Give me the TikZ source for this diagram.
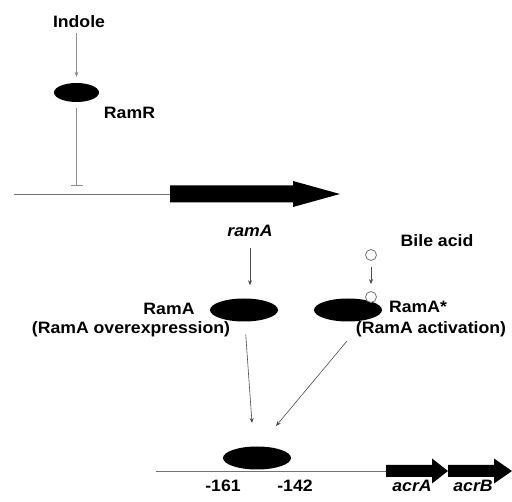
\documentclass[tikz,border=0pt]{standalone}
\usepackage{fontspec}
\setmainfont{Liberation Sans}[FakeStretch=1.07]
\usetikzlibrary{arrows.meta,shapes.geometric}
\tikzset{protein/.style = {ellipse, fill=black, minimum width = 68pt, minimum height = 23pt, inner sep = 0pt},
	lbl/.style = {font=\fontsize{16.5}{19}\selectfont\bfseries, inner sep = 1pt},
	genelbl/.style = {font=\fontsize{16.5}{19}\selectfont\bfseries\itshape, inner sep = 1pt},
	act/.style={-{Stealth[length=5pt, width=4pt]}, draw=black!70, line width=0.6pt},
	inhib/.style={-{Bar[width=12pt]}, draw=black!45, line width=0.7pt},
	dna/.style={draw=black!55, line width=0.8pt},
	ligand/.style={circle, draw=black!55, fill=white, minimum size = 11pt, inner sep = 0pt, line width=0.8pt}}

\begin{document}
\begin{tikzpicture}[x=1pt, y=-1pt]
 \useasboundingbox (0,0) rectangle (512,502);

 % RamR and the ramA gene
 \node (indole) at (79,21.5) [lbl] {Indole};
 \node (ramr) at (76.5,92.5) [protein, minimum width = 45pt, minimum height = 19pt] {};
 \node (ramrlabel) at (129.5,112.5) [lbl] {RamR};
 \draw [act, draw=black!45, shorten <=4pt, shorten >=6pt] (indole.south -| ramr.north) -- (ramr.north);

 \coordinate (ramrsite) at (76.5,185.5);
 \draw [inhib, shorten <=6pt] (ramr) -- (ramrsite);

 \draw [dna] (14,194) -- (170,194);
 \fill (170,185.5) -- (293,185.5) -- (293,181) -- (340,194) -- (293,207) -- (293,202.5) -- (170,202.5) -- cycle;

 \node (ramalabel) at (250,231) [genelbl] {ramA};
 \node (bile) at (437,241) [lbl] {Bile acid};

 % RamA and RamA*
 \node (rama) at (244,310) [protein] {};
 \node (ramastar) at (348,310) [protein] {};
 \node (ramatext) at (169,308.5) [lbl] {RamA};
 \node (overtext) at (131,329.5) [lbl] {(RamA overexpression)};
 \node (startext) at (418,307) [lbl] {RamA*};
 \node (acttext) at (431,329.5) [lbl] {(RamA activation)};

 \draw [act, shorten <=10pt, shorten >=13pt] (ramalabel) -- (ramalabel |- rama.north);

 \node (bile1) at (371,255) [ligand] {};
 \node (bile2) at (371,297) [ligand] {};
 \draw [act, shorten <=6pt, shorten >=7pt] (bile1) -- (bile2);

 % binding to the acrAB promoter
 \draw [dna] (156,471) -- (387,471);
 \node (ramasite) at (257,458) [protein] {};
 \fill (386,465) -- (432,465) -- (432,458.5) -- (448,471) -- (432,483.5) -- (432,477) -- (386,477) -- cycle;
 \fill (448,465) -- (494,465) -- (494,458.5) -- (512,471) -- (494,483.5) -- (494,477) -- (448,477) -- cycle;

 \coordinate (hit1) at (252,423);
 \coordinate (hit2) at (276,426);
 \coordinate (actfoot) at (347,341);
 \draw [act, shorten <=13pt] (rama) -- (hit1);
 \draw [act] (actfoot) -- (hit2);

 \node (m161) at (223,486) [lbl] {-161};
 \node (m142) at (295,486) [lbl] {-142};
 \node (acra) at (412,486) [genelbl] {acrA};
 \node (acrb) at (473,486) [genelbl] {acrB};

\end{tikzpicture}
\end{document}
